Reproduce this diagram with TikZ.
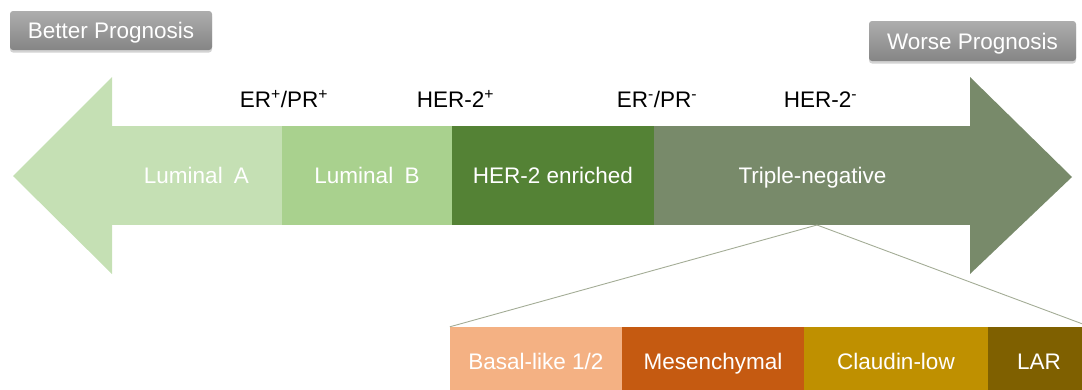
\documentclass[tikz,border=0pt]{standalone}
\usepackage{fontspec}
\setmainfont{Liberation Sans}
\usetikzlibrary{shadows}
\definecolor{lumA}{HTML}{C5E0B4}
\definecolor{lumB}{HTML}{A9D18E}
\definecolor{hertwo}{HTML}{548235}
\definecolor{trineg}{HTML}{788A6A}
\definecolor{basal}{HTML}{F4B183}
\definecolor{mesen}{HTML}{C55A11}
\definecolor{claud}{HTML}{BF9000}
\definecolor{larc}{HTML}{7F6000}
\definecolor{zoomline}{HTML}{A3AC96}
\definecolor{progtop}{HTML}{ADADAD}
\definecolor{progbot}{HTML}{858585}
\tikzset{
  txt/.style={font=\fontsize{22.5}{26}\selectfont},
  seg/.style={txt, inner sep=0pt, minimum height=99pt, text=white, text height=16pt, text depth=0pt},
  subbox/.style={txt, inner sep=0pt, minimum height=68pt, text=white, text height=16pt, text depth=0pt},
  marker/.style={txt, inner sep=0pt, anchor=base, text=black},
  prog/.style={txt, rounded corners=3pt, inner sep=0pt, top color=progtop, bottom color=progbot,
     text=white, text height=16pt, text depth=0pt,
     drop shadow={shadow xshift=0pt, shadow yshift=-2.5pt, opacity=0.35}},
  zoomln/.style={draw=zoomline, line width=0.9pt}
}
\begin{document}
\begin{tikzpicture}[x=1pt,y=-1pt]
\useasboundingbox (0,0) rectangle (1082,389);
% prognosis labels
\node[prog, minimum width=202pt, minimum height=39pt] (better) at (111,30.5) {Better Prognosis};
\node[prog, minimum width=207pt, minimum height=40pt] (worse) at (972.5,41) {Worse Prognosis};
% arrow heads
\fill[lumA] (112,77) -- (13,176) -- (112,274) -- cycle;
\fill[trineg] (970,77) -- (1072,177) -- (970,274) -- cycle;
% segments
\node[seg, fill=lumA, minimum width=171pt] (luma) at (196.5,175.5) {Luminal\hspace{0.5em}A};
\node[seg, fill=lumB, minimum width=170pt] (lumb) at (367,175.5) {Luminal\hspace{0.5em}B};
\node[seg, fill=hertwo, minimum width=202pt] (her) at (553,175.5) {HER-2 enriched};
\node[seg, fill=trineg, minimum width=317pt] (tn) at (812.5,175.5) {Triple-negative};
% markers
\node[marker] (m1) at (284,107) {ER\textsuperscript{+}/PR\textsuperscript{+}};
\node[marker] (m2) at (455.5,107) {HER-2\textsuperscript{+}};
\node[marker] (m3) at (657,107) {ER\textsuperscript{-}/PR\textsuperscript{-}};
\node[marker] (m4) at (820.5,107) {HER-2\textsuperscript{-}};
% subtypes
\node[subbox, fill=basal, minimum width=172pt] (bas) at (536,361) {Basal-like 1/2};
\node[subbox, fill=mesen, minimum width=182pt] (mes) at (713,361) {Mesenchymal};
\node[subbox, fill=claud, minimum width=184pt] (cla) at (896,361) {Claudin-low};
\node[subbox, fill=larc, minimum width=102pt] (lar) at (1039,361) {LAR};
% zoom lines
\coordinate (apex) at (817,225);
\draw[zoomln] (apex) -- (bas.north west);
\draw[zoomln] (apex) -- (lar.north east);
\end{tikzpicture}
\end{document}
